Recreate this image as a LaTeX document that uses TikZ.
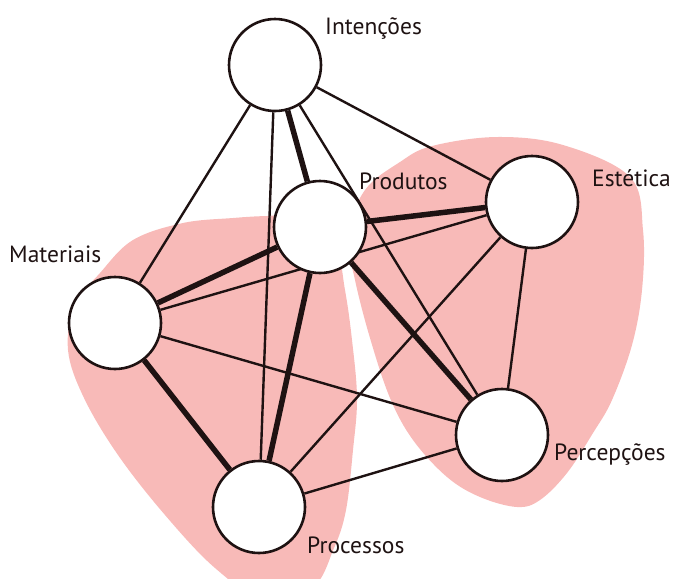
\documentclass[tikz,border=0pt]{standalone}
\usepackage{fontspec}
\setmainfont{PT Sans}
\definecolor{blobpink}{RGB}{248,186,184}
\definecolor{ink}{RGB}{30,18,18}
\pgfdeclarelayer{regions}
\pgfdeclarelayer{links}
\pgfsetlayers{regions,links,main}
\begin{document}
\begin{tikzpicture}[x=1pt,y=-1pt,
  concept/.style={circle, draw=ink, line width=2.6pt, fill=white,
                  minimum size=92pt, inner sep=0pt},
  tag/.style={anchor=base west, inner sep=0pt, text=ink,
              font=\fontsize{23.5}{28}\selectfont},
  weak/.style={draw=ink, line width=2.4pt},
  strong/.style={draw=ink, line width=5.5pt},
  region/.style={fill=blobpink}]
\useasboundingbox (0,0) rectangle (673,579);

% concept circles
\node[concept] (I)  at (275,65)  {};
\node[concept] (P)  at (320,227) {};
\node[concept] (M)  at (115,323) {};
\node[concept] (Pr) at (259,507) {};
\node[concept] (E)  at (532,202) {};
\node[concept] (Pc) at (502,435) {};

% labels
\node[tag] (lI)  at (325,34)  {Intenções};
\node[tag] (lP)  at (359,189) {Produtos};
\node[tag] (lE)  at (592,186) {Estética};
\node[tag] (lM)  at (9,262)   {Materiais};
\node[tag] (lPc) at (554,460) {Percepções};
\node[tag] (lPr) at (307,553) {Processos};

% shaded groups
\begin{pgfonlayer}{regions}
\fill[region] plot[smooth cycle, tension=0.6] coordinates {
  (75,305) (100,273) (133,240) (183,223) (233,218) (267,216) (305,216)
  (335,245) (345,290) (352,340) (357,398) (353,450) (346,510) (334,548)
  (312,588) (262,598) (215,568) (165,515) (118,455) (84,398) (68,350)};
\fill[region] plot[smooth cycle, tension=0.6] coordinates {
  (365,190) (400,162) (432,146) (497,137) (563,145) (630,177) (643,230)
  (642,290) (632,345) (612,400) (593,433) (567,473) (540,500) (517,507)
  (480,497) (447,477) (413,440) (390,398) (370,338) (355,280) (348,235)};
\end{pgfonlayer}

% connections
\begin{pgfonlayer}{links}
\draw[weak] (I) -- (M);
\draw[weak] (I) -- (Pr);
\draw[weak] (I) -- (Pc);
\draw[weak] (I) -- (E);
\draw[weak] (M) -- (E);
\draw[weak] (M) -- (Pc);
\draw[weak] (Pr) -- (E);
\draw[weak] (Pr) -- (Pc);
\draw[weak] (E) -- (Pc);
\draw[strong] (I) -- (P);
\draw[strong] (P) -- (M);
\draw[strong] (P) -- (Pr);
\draw[strong] (P) -- (Pc);
\draw[strong] (P) -- (E);
\draw[strong] (M) -- (Pr);
\end{pgfonlayer}
\end{tikzpicture}
\end{document}
